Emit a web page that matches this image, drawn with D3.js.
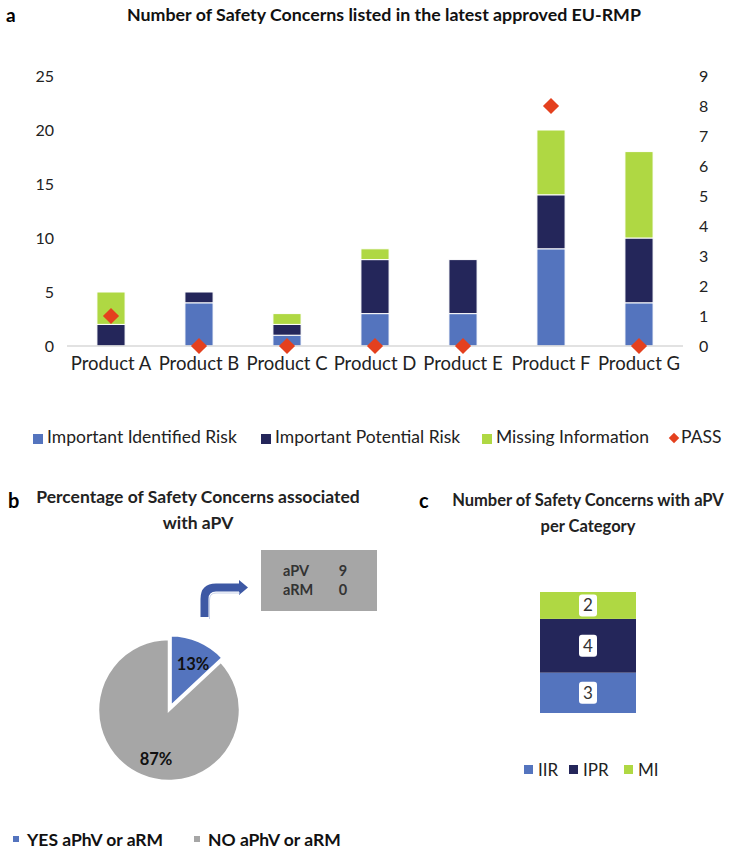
<!DOCTYPE html>
<html><head><meta charset="utf-8">
<script src="https://cdn.jsdelivr.net/npm/d3@7/dist/d3.min.js"></script>
<style>body{margin:0;background:#fff}svg{font-family:Lato,"Open Sans",sans-serif}</style>
</head><body>
<svg id="c" width="751" height="854"></svg>
<script>
const products = ["Product A","Product B","Product C","Product D","Product E","Product F","Product G"];
const iir = [0,4,1,3,3,9,4];
const ipr = [2,1,1,5,5,5,6];
const mi  = [3,0,1,1,0,6,8];
const pass = [1,0,0,0,0,8,0];
const leftTicks = [0,5,10,15,20,25];
const rightTicks = [0,1,2,3,4,5,6,7,8,9];
const seriesNames = ["Important Identified Risk","Important Potential Risk","Missing Information","PASS"];
const pieLabels = ["YES aPhV or aRM","NO aPhV or aRM"];
const pieValues = [9,60];
const boxRows = [["aPV",9],["aRM",0]];
const catNames = ["IIR","IPR","MI"];
const catValues = [3,4,2];

const C = {iir:"#5474be", ipr:"#24265a", mi:"#afd843", pass:"#e4401e", gray:"#a6a6a6"};
const colors = [C.iir, C.ipr, C.mi];
const svg = d3.select("#c");

// ---------- Panel a ----------
svg.append("text").attr("x",6).attr("y",22).attr("font-size",19).attr("font-weight","bold").text("a");
svg.append("text").attr("x",384).attr("y",21).attr("text-anchor","middle").attr("font-size",17.8).attr("font-weight","bold").attr("fill","#111")
  .text("Number of Safety Concerns listed in the latest approved EU-RMP");

const x = d3.scaleBand().domain(products).range([67,683]).paddingInner(0.68).paddingOuter(0.34);
const yL = d3.scaleLinear().domain([0,25]).range([346,76]);
const yR = d3.scaleLinear().domain([0,9]).range([346,76]);

const gl = svg.append("g").attr("transform","translate(54,0)")
  .call(d3.axisLeft(yL).tickValues(leftTicks).tickSize(0).tickPadding(0));
gl.select(".domain").remove();
gl.selectAll("text").attr("font-size",16).attr("font-family","Lato,sans-serif").attr("fill","#222");
const gr = svg.append("g").attr("transform","translate(699,0)")
  .call(d3.axisRight(yR).tickValues(rightTicks).tickSize(0).tickPadding(0));
gr.select(".domain").remove();
gr.selectAll("text").attr("font-size",16).attr("font-family","Lato,sans-serif").attr("fill","#222");

const stackData = products.map((p,i)=>({p, iir:iir[i], ipr:ipr[i], mi:mi[i]}));
const stack = d3.stack().keys(["iir","ipr","mi"])(stackData);
svg.append("g").selectAll("g").data(stack).join("g").attr("fill",(d,i)=>colors[i])
  .selectAll("rect").data(d=>d).join("rect")
  .attr("x",d=>x(d.data.p)).attr("width",x.bandwidth())
  .attr("y",d=>yL(d[1])).attr("height",d=>Math.max(0,yL(d[0])-yL(d[1])))
  .attr("stroke","#fff").attr("stroke-width",1);

svg.append("line").attr("x1",67).attr("x2",683).attr("y1",yL(0)).attr("y2",yL(0)).attr("stroke","#d9d9d9").attr("stroke-width",1.5);

const gx = svg.append("g").attr("transform",`translate(0,${yL(0)})`).call(d3.axisBottom(x).tickSize(0).tickPadding(11));
gx.select(".domain").remove();
gx.selectAll("text").attr("font-size",18.5).attr("font-family","Lato,sans-serif").attr("fill","#222");

const diamond = d3.symbol().type(d3.symbolSquare).size(130);
svg.append("g").selectAll("path").data(pass).join("path")
  .attr("d",diamond).attr("fill",C.pass)
  .attr("transform",(d,i)=>`translate(${x(products[i])+x.bandwidth()/2},${yR(d)}) rotate(45)`);

// legend a
const legA = [{x:33,c:C.iir,t:seriesNames[0]},{x:261,c:C.ipr,t:seriesNames[1]},{x:482,c:C.mi,t:seriesNames[2]},{x:669,c:C.pass,t:seriesNames[3],d:true}];
legA.forEach(l=>{
  if(l.d){ svg.append("path").attr("d",d3.symbol().type(d3.symbolSquare).size(55)).attr("fill",l.c).attr("transform",`translate(${l.x+5},438) rotate(45)`); }
  else svg.append("rect").attr("x",l.x).attr("y",434).attr("width",10).attr("height",10).attr("fill",l.c);
  svg.append("text").attr("x",l.x+(l.d?12:14)).attr("y",443).attr("font-size",17.5).attr("fill","#222").text(l.t);
});

// ---------- Panel b ----------
svg.append("text").attr("x",8).attr("y",508).attr("font-size",20).attr("font-weight","bold").text("b");
svg.append("text").attr("x",198).attr("y",503).attr("text-anchor","middle").attr("font-size",17.5).attr("font-weight","bold").attr("fill","#222").text("Percentage of Safety Concerns associated");
svg.append("text").attr("x",198).attr("y",529).attr("text-anchor","middle").attr("font-size",17.5).attr("font-weight","bold").attr("fill","#222").text("with aPV");

svg.append("rect").attr("x",261).attr("y",550).attr("width",116).attr("height",61).attr("fill",C.gray);
boxRows.forEach((r,i)=>{
  svg.append("text").attr("x",283).attr("y",576+i*19).attr("font-size",14.5).attr("font-weight","bold").attr("fill","#333").text(r[0]);
  svg.append("text").attr("x",343).attr("y",576+i*19).attr("text-anchor","middle").attr("font-size",14.5).attr("font-weight","bold").attr("fill","#333").text(r[1]);
});
// bent arrow
svg.append("path").attr("d","M204.5,617 L204.5,599 Q204.5,587.5 216,587.5 L240,587.5")
  .attr("fill","none").attr("stroke","#3d58a4").attr("stroke-width",8);
svg.append("path").attr("d","M239,580 L248,587.5 L239,595 Z").attr("fill","#3d58a4");
svg.append("path").attr("d","M209.5,619 L209.5,600 Q209.5,593 216,593 L240,593").attr("fill","none").attr("stroke","#c8d2ea").attr("stroke-width",1);

const pie = d3.pie().sort(null)(pieValues);
const arc = d3.arc().innerRadius(0).outerRadius(71);
const pcx=169, pcy=710;
const pieColors=[C.iir, C.gray];
svg.append("g").selectAll("path").data(pie).join("path")
  .attr("d",arc).attr("fill",(d,i)=>pieColors[i]).attr("stroke","#fff").attr("stroke-width",2.5)
  .attr("transform",(d,i)=>{
    if(i===0){const m=(d.startAngle+d.endAngle)/2;return `translate(${pcx+Math.sin(m)*4},${pcy-Math.cos(m)*4})`;}
    return `translate(${pcx},${pcy})`;
  });
const tot = d3.sum(pieValues);
const pieLabPos=[[193,670],[156,765]];
pie.forEach((d,i)=>{
  svg.append("text").attr("x",pieLabPos[i][0]).attr("y",pieLabPos[i][1]).attr("text-anchor","middle").attr("font-size",16.5).attr("font-weight","bold").attr("fill","#111")
   .text(Math.round(d.value/tot*100)+"%");
});
// legend b
[[13,C.iir],[194,C.gray]].forEach((l,i)=>{
  svg.append("rect").attr("x",l[0]).attr("y",836).attr("width",6).attr("height",6).attr("fill",l[1]);
  svg.append("text").attr("x",l[0]+14).attr("y",846).attr("font-size",17.5).attr("font-weight","bold").attr("fill","#111").text(pieLabels[i]);
});

// ---------- Panel c ----------
svg.append("text").attr("x",419).attr("y",508).attr("font-size",20).attr("font-weight","bold").text("c");
svg.append("text").attr("x",588).attr("y",506).attr("text-anchor","middle").attr("font-size",16.5).attr("font-weight","bold").attr("fill","#222").text("Number of Safety Concerns with aPV");
svg.append("text").attr("x",588).attr("y",532).attr("text-anchor","middle").attr("font-size",16.5).attr("font-weight","bold").attr("fill","#222").text("per Category");

const yc = d3.scaleLinear().domain([0,d3.sum(catValues)]).range([713,592]);
let cum=0;
catValues.forEach((v,i)=>{
  const y0=yc(cum), y1=yc(cum+v); cum+=v;
  svg.append("rect").attr("x",540).attr("width",96).attr("y",y1).attr("height",y0-y1).attr("fill",colors[i]);
  const cy=(y0+y1)/2;
  svg.append("rect").attr("x",579).attr("y",cy-11).attr("width",18).attr("height",22).attr("rx",3).attr("fill","#fff");
  svg.append("text").attr("x",588).attr("y",cy+6).attr("text-anchor","middle").attr("font-size",17).attr("fill","#333").text(v);
});
[[524,0],[569,1],[624,2]].forEach(l=>{
  svg.append("rect").attr("x",l[0]).attr("y",765).attr("width",9).attr("height",9).attr("fill",colors[l[1]]);
  svg.append("text").attr("x",l[0]+14).attr("y",776).attr("font-size",17).attr("fill","#222").text(catNames[l[1]]);
});
</script>
</body></html>
